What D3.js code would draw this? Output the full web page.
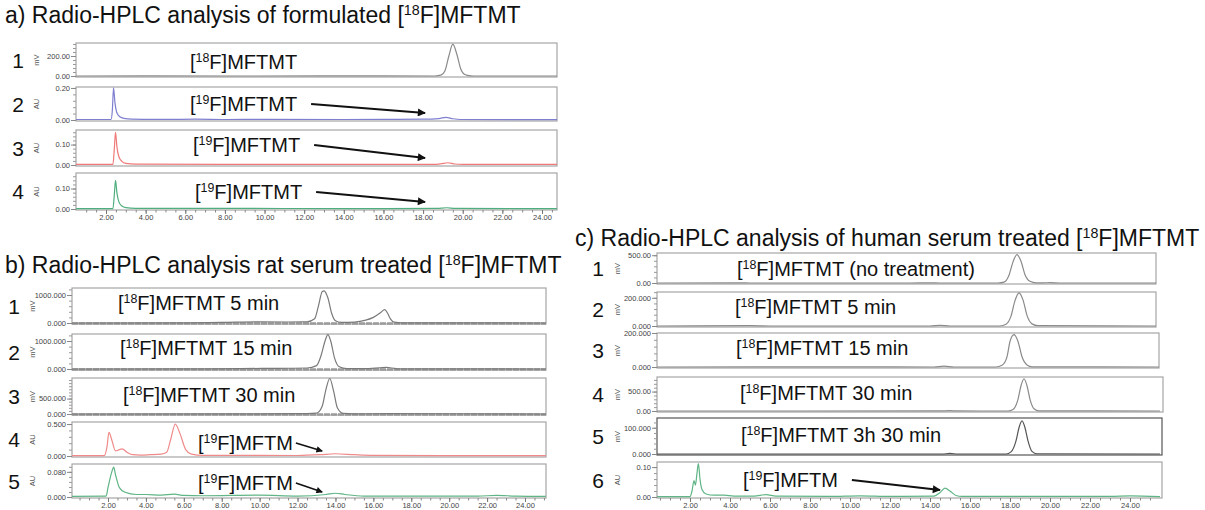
<!DOCTYPE html>
<html>
<head>
<meta charset="utf-8">
<script src="https://cdn.jsdelivr.net/npm/d3@7"></script>
<style>
body { margin: 0; background: #fff; }
svg { display: block; font-family: "Liberation Sans", Arial, sans-serif; }
</style>
</head>
<body>
<div id="chart"></div>
<script>
// chromatogram traces: [retention time (min), signal]
var a1Trace = [[0.4,0],[4,1],[9,0],[13,1],[18.6,0],[18.9,8],[19.1,50],[19.3,200],[19.5,318],[19.7,220],[19.9,70],[20.1,15],[20.4,2],[20.7,0],[25,0]];
var a2Trace = [[0.4,0.003],[2.25,0.003],[2.32,0.06],[2.38,0.2],[2.45,0.11],[2.55,0.045],[2.7,0.02],[2.9,0.01],[3.3,0.005],[5,0.004],[6.5,0.005],[8,0.003],[10,0.004],[14,0.003],[16,0.004],[18,0.005],[18.8,0.009],[19.15,0.017],[19.5,0.008],[19.9,0.003],[25,0.002]];
var a3Trace = [[0.4,0.003],[2.35,0.003],[2.42,0.08],[2.48,0.16],[2.55,0.09],[2.65,0.04],[2.8,0.018],[3.0,0.008],[3.5,0.004],[8,0.003],[18.5,0.003],[18.9,0.006],[19.25,0.011],[19.6,0.005],[20,0.003],[25,0.003]];
var a4Trace = [[0.4,0.002],[2.35,0.002],[2.42,0.07],[2.48,0.14],[2.55,0.08],[2.65,0.035],[2.8,0.015],[3.0,0.007],[3.5,0.003],[8,0.003],[14,0.002],[18.7,0.003],[19.2,0.006],[19.6,0.003],[25,0.002]];

var b1Trace = [[0.1,0],[6,5],[8,20],[10,40],[11.5,35],[12.5,40],[12.9,150],[13.1,600],[13.3,1120],[13.4,1150],[13.6,900],[13.8,350],[14.0,80],[14.3,20],[15,30],[15.6,100],[16.0,200],[16.4,380],[16.6,480],[16.75,350],[16.9,150],[17.1,30],[17.5,5],[25.1,0]];
var b2Trace = [[0.1,0],[6,5],[9,15],[11,25],[12.5,35],[13.0,120],[13.25,500],[13.45,1000],[13.6,1230],[13.75,1000],[13.95,400],[14.2,80],[14.6,15],[15.5,10],[16.3,40],[16.7,60],[17.0,35],[17.4,5],[25.1,0]];
var b3Trace = [[0.1,0],[8,5],[12,10],[13.0,30],[13.3,250],[13.5,800],[13.7,1150],[13.9,750],[14.1,200],[14.4,20],[15,5],[16.7,10],[25.1,0]];
var b4Trace = [[0.1,0.005],[1.8,0.005],[1.95,0.15],[2.05,0.37],[2.2,0.25],[2.4,0.08],[2.6,0.1],[2.75,0.11],[3.0,0.06],[3.3,0.02],[3.7,0.015],[4.2,0.02],[4.8,0.03],[5.1,0.06],[5.3,0.25],[5.55,0.5],[5.8,0.35],[6.1,0.1],[6.4,0.03],[7,0.01],[10,0.01],[12,0.008],[13.2,0.02],[14,0.035],[15,0.02],[16,0.01],[25.1,0.005]];
var b5Trace = [[0.1,0.002],[1.9,0.003],[2.0,0.03],[2.2,0.08],[2.3,0.095],[2.4,0.07],[2.6,0.03],[2.9,0.015],[3.5,0.008],[4,0.008],[4.8,0.006],[5.5,0.009],[6,0.005],[7,0.004],[10,0.006],[12,0.003],[13.5,0.008],[14,0.012],[14.5,0.008],[15.5,0.003],[21.5,0.003],[22.5,0.005],[23.5,0.003],[25.1,0.002]];

var c1Trace = [[0.3,0],[4.5,2],[5,0],[13,0],[14,4],[14.5,0],[17.4,0],[17.7,15],[17.95,140],[18.15,380],[18.35,510],[18.55,390],[18.75,150],[19.0,30],[19.3,3],[20,5],[20.5,0],[25.5,0]];
var c2Trace = [[0.3,0],[5,2],[6,0],[14,0],[14.5,4],[15,0],[17.5,0],[17.8,12],[18.05,70],[18.25,180],[18.45,235],[18.65,185],[18.85,75],[19.1,15],[19.4,2],[25.5,0]];
var c3Trace = [[0.3,0],[10,1],[14.2,0],[14.7,5],[15.2,0],[17.3,0],[17.6,10],[17.85,60],[18.0,150],[18.2,190],[18.4,150],[18.6,60],[18.85,12],[19.1,1],[25.5,0]];
var c4Trace = [[0.3,0],[14.5,2],[15,8],[15.3,2],[17.9,0],[18.15,40],[18.4,300],[18.55,650],[18.7,830],[18.85,650],[19.0,300],[19.2,60],[19.45,5],[25.5,0]];
var c5Trace = [[0.3,0],[14.6,0],[15,2],[15.4,0],[17.8,0],[18.05,8],[18.3,50],[18.45,100],[18.6,126],[18.75,100],[18.9,50],[19.1,10],[19.35,1],[25.5,0]];
var c6Trace = [[0.3,0.001],[2.0,0.001],[2.1,0.02],[2.2,0.055],[2.27,0.04],[2.35,0.08],[2.42,0.112],[2.5,0.06],[2.6,0.025],[2.8,0.01],[3.2,0.006],[3.7,0.006],[4.2,0.003],[5.2,0.003],[5.8,0.008],[6.3,0.003],[9,0.002],[10.5,0.004],[12,0.002],[14.2,0.003],[14.5,0.015],[14.75,0.03],[15.0,0.02],[15.3,0.005],[15.6,0.002],[23,0.002],[24,0.004],[25.5,0.001]];

var xTicks = [2,4,6,8,10,12,14,16,18,20,22,24];

var titles = ["a) Radio-HPLC analysis of formulated ", "b) Radio-HPLC analysis rat serum treated ", "c) Radio-HPLC analysis of human serum treated "];
// label = [isotope, rest of text]
var labelsA = [["18","F]MFTMT"],["19","F]MFTMT"],["19","F]MFTMT"],["19","F]MFTMT"]];
var labelsB = [["18","F]MFTMT 5 min"],["18","F]MFTMT 15 min"],["18","F]MFTMT 30 min"],["19","F]MFTM"],["19","F]MFTM"]];
var labelsC = [["18","F]MFTMT (no treatment)"],["18","F]MFTMT 5 min"],["18","F]MFTMT 15 min"],["18","F]MFTMT 30 min"],["18","F]MFTMT 3h 30 min"],["19","F]MFTM"]];

// y axis: top tick value, unit
var yTicksA = [200, 0.2, 0.1, 0.1];
var yTicksB = [1000, 1000, 500, 0.5, 0.08];
var yTicksC = [500, 200, 200, 500, 100, 0.1];
var unitsA = ["mV","AU","AU","AU"];
var unitsB = ["mV","mV","mV","AU","AU"];
var unitsC = ["mV","mV","mV","mV","mV","AU"];
// arrow targets (retention time) for impurity labels
var arrowA = [null, 18.1, 18.1, 18.1];
var arrowB = [null, null, null, 13.3, 13.3];
var arrowC = [null, null, null, null, null, 14.5];

var svg = d3.select("#chart").append("svg")
  .attr("width", 1205)
  .attr("height", 510);

svg.append("defs").append("marker")
  .attr("id", "head")
  .attr("viewBox", "0 0 10 10")
  .attr("refX", 9).attr("refY", 5)
  .attr("markerWidth", 5).attr("markerHeight", 4)
  .attr("markerUnits", "strokeWidth")
  .attr("orient", "auto")
  .append("path")
  .attr("d", "M0,0L10,5L0,10z")
  .attr("fill", "#111");

function isoText(sel, iso, rest, size, pre) {
  var t = sel.append("text").attr("font-size", size).attr("fill", "#111");
  if (pre) t.append("tspan").text(pre);
  t.append("tspan").text("[");
  t.append("tspan").attr("font-size", size * 0.62).attr("baseline-shift", "super").text(iso);
  t.append("tspan").text(rest);
  return t;
}

var panels = [
  {tick2: 106, tick24: 542, left: 76, right: 557, numX: 18, numSize: 21, labSize: 20,
   title: titles[0], titleX: 5, titleY: 23,
   rows: [
     {top: 43, bottom: 77, data: a1Trace, yMax: 330, fmt: ".2f", color: "#8a8a8a", labX: 190, labY: 69},
     {top: 87, bottom: 121, data: a2Trace, yMax: 0.206, fmt: ".2f", color: "#7f7fd0", labX: 190, labY: 111},
     {top: 130, bottom: 166, data: a3Trace, yMax: 0.171, fmt: ".2f", color: "#f07a7a", labX: 193, labY: 152},
     {top: 173, bottom: 210, data: a4Trace, yMax: 0.176, fmt: ".2f", color: "#4fae7d", labX: 195, labY: 199}
   ], labels: labelsA, ticks: yTicksA, units: unitsA, arrows: arrowA},
  {tick2: 108, tick24: 525, left: 72, right: 546, numX: 14, numSize: 21, labSize: 20,
   title: titles[1], titleX: 5, titleY: 273,
   rows: [
     {top: 288, bottom: 324, data: b1Trace, yMax: 1250, fmt: ".3f", color: "#7a7a7a", labX: 118, labY: 310},
     {top: 334, bottom: 370, data: b2Trace, yMax: 1250, fmt: ".3f", color: "#7a7a7a", labX: 120, labY: 355},
     {top: 378, bottom: 415, data: b3Trace, yMax: 1167, fmt: ".3f", color: "#7a7a7a", labX: 123, labY: 402},
     {top: 422, bottom: 457, data: b4Trace, yMax: 0.532, fmt: ".3f", color: "#f08a8a", labX: 198, labY: 450},
     {top: 464, bottom: 498, data: b5Trace, yMax: 0.105, fmt: ".3f", color: "#5fb585", labX: 198, labY: 490}
   ], labels: labelsB, ticks: yTicksB, units: unitsB, arrows: arrowB},
  {tick2: 690, tick24: 1130, left: 657, right: 1160, numX: 598, numSize: 21, labSize: 20,
   title: titles[2], titleX: 575, titleY: 246,
   rows: [
     {top: 253, bottom: 284, right: 1156, data: c1Trace, yMax: 540, fmt: ".2f", color: "#8a8a8a", labX: 737, labY: 276},
     {top: 292, bottom: 327, right: 1156, data: c2Trace, yMax: 241, fmt: ".3f", color: "#8a8a8a", labX: 735, labY: 314},
     {top: 333, bottom: 368, right: 1159, data: c3Trace, yMax: 200, fmt: ".3f", color: "#8a8a8a", labX: 736, labY: 355},
     {top: 377, bottom: 412, right: 1163, data: c4Trace, yMax: 875, fmt: ".2f", color: "#8a8a8a", labX: 740, labY: 400},
     {top: 418, bottom: 455, right: 1162, data: c5Trace, yMax: 137, fmt: ".3f", color: "#555555", labX: 741, labY: 442, frame: "#555"},
     {top: 462, bottom: 498, right: 1162, data: c6Trace, yMax: 0.117, fmt: ".2f", color: "#5fb585", labX: 743, labY: 487}
   ], labels: labelsC, ticks: yTicksC, units: unitsC, arrows: arrowC}
];

panels.forEach(function(p, pi) {
  var x = d3.scaleLinear().domain([2, 24]).range([p.tick2, p.tick24]);
  var g = svg.append("g");

  isoText(g, "18", "F]MFTMT", 23, p.title)
    .attr("x", p.titleX).attr("y", p.titleY);

  p.rows.forEach(function(r, i) {
    var y = d3.scaleLinear().domain([0, r.yMax]).range([r.bottom - 1, r.top]);
    var tick = p.ticks[i];
    var right = r.right || p.right;

    // frame
    g.append("rect")
      .attr("x", p.left).attr("y", r.top)
      .attr("width", right - p.left).attr("height", r.bottom - r.top)
      .attr("fill", "none").attr("stroke", r.frame || "#a6a6a6").attr("stroke-width", 1.2);
    if (pi === 1 && i < 3) {
      g.append("line")
        .attr("x1", p.left).attr("x2", right)
        .attr("y1", r.bottom - 0.5).attr("y2", r.bottom - 0.5)
        .attr("stroke", "#9a9a9a").attr("stroke-width", 2.5)
        .attr("stroke-dasharray", "6,1");
    }

    // y axis
    var minor = d3.range(0, r.yMax, tick / 5);
    var yMinor = d3.axisLeft(y).tickValues(minor).tickSize(3).tickFormat("");
    g.append("g").attr("transform", `translate(${p.left},0)`).call(yMinor)
      .call(s => s.select(".domain").remove())
      .call(s => s.selectAll("line").attr("stroke", "#999"));
    var yMajor = d3.axisLeft(y).tickValues([0, tick]).tickSize(5).tickPadding(1).tickFormat(d3.format(r.fmt));
    g.append("g").attr("transform", `translate(${p.left},0)`).call(yMajor)
      .call(s => s.select(".domain").remove())
      .call(s => s.selectAll("line").attr("stroke", "#888"))
      .call(s => s.selectAll("text").attr("font-size", 7.5).attr("fill", "#444")
        .attr("font-family", "'Liberation Sans', Arial, sans-serif"));

    g.append("text")
      .attr("transform", `translate(${p.left - 37},${(r.top + r.bottom) / 2})rotate(-90)`)
      .attr("text-anchor", "middle")
      .attr("font-size", 7.5).attr("fill", "#555")
      .text(p.units[i]);

    // row number
    g.append("text")
      .attr("x", p.numX).attr("y", (r.top + r.bottom) / 2 + 7.5)
      .attr("text-anchor", "middle")
      .attr("font-size", p.numSize).attr("fill", "#111")
      .text(i + 1);

    // trace
    var clipId = "clip" + pi + "_" + i;
    g.append("clipPath").attr("id", clipId).append("rect")
      .attr("x", p.left).attr("y", r.top - 1)
      .attr("width", right - p.left).attr("height", r.bottom - r.top + 1);
    var line = d3.line()
      .x(d => x(d[0]))
      .y(d => y(d[1]))
      .curve(d3.curveMonotoneX);
    g.append("path")
      .datum(r.data)
      .attr("clip-path", `url(#${clipId})`)
      .attr("d", line)
      .attr("fill", "none")
      .attr("stroke", r.color)
      .attr("stroke-width", 1.2);

    // label
    var lab = isoText(g, p.labels[i][0], p.labels[i][1], p.labSize)
      .attr("x", r.labX).attr("y", r.labY);

    if (p.arrows[i] != null) {
      var tx = r.labX + lab.node().getComputedTextLength();
      var ax = x(p.arrows[i]);
      var x1 = pi === 1 ? tx + 3 : tx + 14;
      var y1 = r.labY - 7;
      var y2 = pi === 1 ? r.bottom - 6 : r.bottom - 8;
      g.append("line")
        .attr("x1", x1).attr("y1", y1)
        .attr("x2", ax).attr("y2", y2)
        .attr("stroke", "#111").attr("stroke-width", pi === 1 ? 1.6 : 2)
        .attr("marker-end", "url(#head)");
    }
  });

  // x axis under the last row
  var last = p.rows[p.rows.length - 1];
  var lastRight = last.right || p.right;
  var minorX = d3.range(0.5, 25.5, 0.5).filter(v => x(v) > p.left + 1 && x(v) < lastRight - 1);
  g.append("g").attr("transform", `translate(0,${last.bottom})`)
    .call(d3.axisBottom(x).tickValues(minorX).tickSize(2.5).tickFormat(""))
    .call(s => s.select(".domain").remove())
    .call(s => s.selectAll("line").attr("stroke", "#888"));
  g.append("g").attr("transform", `translate(0,${last.bottom})`)
    .call(d3.axisBottom(x).tickValues(xTicks).tickSize(4).tickPadding(1).tickFormat(d3.format(".2f")))
    .call(s => s.select(".domain").remove())
    .call(s => s.selectAll("line").attr("stroke", "#777"))
    .call(s => s.selectAll("text").attr("font-size", 7.5).attr("fill", "#444")
      .attr("font-family", "'Liberation Sans', Arial, sans-serif"));
});
</script>
</body>
</html>
